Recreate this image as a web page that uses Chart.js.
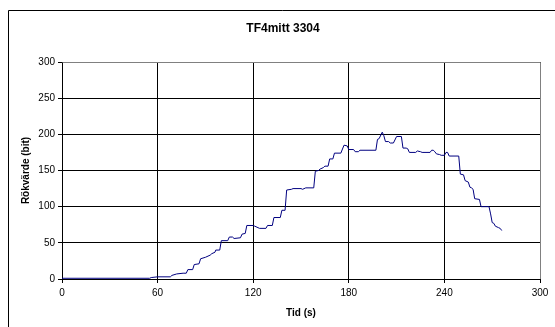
<!DOCTYPE html>
<html>
<head>
<meta charset="utf-8">
<script src="https://cdn.jsdelivr.net/npm/chart.js@4/dist/chart.umd.min.js"></script>
<style>
  body { margin: 0; background: #fff; }
  canvas { display: block; }
</style>
</head>
<body>
<canvas id="smokeChart" width="555" height="327"></canvas>
<script>
const chartTitle = "TF4mitt 3304";
const xTitle = "Tid (s)";
const yTitle = "Rökvärde (bit)";

// values (time in seconds, smoke value in bits)
const timeS = [0, 55, 56, 60, 68, 69, 72, 76, 78, 79, 82, 83, 86, 87, 90, 93, 94, 96, 96.5, 99,
    100, 104, 105, 107, 108, 112, 113, 115, 116, 120, 121, 124, 128, 129, 132, 133, 137, 138, 140,
    141, 144, 145, 150, 151, 153, 158, 159, 161, 162, 164, 165, 167, 168, 170, 171, 175, 177, 179,
    180, 183, 184, 186, 187, 197, 198, 199, 201, 202, 203, 205, 206, 208, 210, 213, 214, 216, 217,
    218, 222, 223, 225, 226, 231, 232, 233, 234, 235, 237, 238, 240, 241, 242, 243, 249, 250, 252,
    253, 255, 256, 257, 258, 259, 262, 263, 268, 269, 270, 271, 272, 274, 275, 276];
const smokeValue = [1, 1, 2, 3, 3, 5, 7, 8, 8, 13, 13, 20, 21, 28, 30, 33, 35, 37, 40, 40,
    53, 53, 58, 58, 56, 57, 62, 63, 74, 74, 73, 70, 70, 74, 74, 85, 85, 95, 95,
    123, 124, 125, 125, 124, 126, 126, 149, 150, 152, 154, 156, 156, 166, 166, 174, 174, 185, 184,
    179, 179, 176, 176, 178, 178, 193, 194, 203, 198, 190, 190, 188, 188, 197, 197, 181, 181, 180,
    175, 175, 177, 176, 175, 175, 178, 178, 176, 173, 172, 171, 171, 175, 175, 170, 170, 145, 144,
    136, 134, 127, 126, 124, 111, 110, 100, 100, 90, 78, 77, 73, 71, 70, 67];

const xTicks = [0, 60, 120, 180, 240, 300];
const yTicks = [0, 50, 100, 150, 200, 250, 300];

const fontFamily = "'Liberation Sans', Arial, sans-serif";

// outer frame, chart title and the grey plot border like the old Excel look
const framePlugin = {
    id: 'frame',
    afterDraw(chart) {
        const ctx = chart.ctx;
        const a = chart.chartArea;
        ctx.save();
        ctx.strokeStyle = '#000';
        ctx.lineWidth = 1;
        ctx.beginPath();
        ctx.moveTo(8.5, 330);
        ctx.lineTo(8.5, 10.5);
        ctx.lineTo(560, 10.5);
        ctx.stroke();

        ctx.strokeStyle = '#808080';
        ctx.beginPath();
        ctx.moveTo(Math.round(a.left) + 0.5, Math.round(a.top) + 0.5);
        ctx.lineTo(Math.round(a.right) + 0.5, Math.round(a.top) + 0.5);
        ctx.lineTo(Math.round(a.right) + 0.5, Math.round(a.bottom));
        ctx.stroke();

        ctx.fillStyle = '#000';
        ctx.font = 'bold 12px ' + fontFamily;
        ctx.textAlign = 'center';
        ctx.textBaseline = 'middle';
        ctx.fillText(chartTitle, 283, 29);
        ctx.restore();
    }
};

const points = timeS.map((t, i) => ({ x: t, y: smokeValue[i] }));

new Chart(document.getElementById('smokeChart').getContext('2d'), {
    type: 'scatter',
    data: {
        datasets: [{
            data: points,
            showLine: true,
            borderColor: '#000080',
            borderWidth: 1,
            pointRadius: 0,
            tension: 0
        }]
    },
    options: {
        responsive: false,
        animation: false,
        layout: { padding: { left: 0, top: 62, right: 15, bottom: 0 } },
        plugins: {
            legend: { display: false },
            tooltip: { enabled: false },
            title: { display: false }
        },
        scales: {
            x: {
                type: 'linear',
                min: 0,
                max: 300,
                afterBuildTicks: scale => { scale.ticks = xTicks.map(v => ({ value: v })); },
                afterFit: scale => { scale.height = 48; },
                ticks: { color: '#000', font: { family: fontFamily, size: 10 }, padding: 4, maxRotation: 0 },
                grid: { color: '#000', lineWidth: 1, tickLength: 4 },
                border: { color: '#000' },
                title: { display: true, text: xTitle, color: '#000', font: { family: fontFamily, size: 10, weight: 'bold' }, padding: 8 }
            },
            y: {
                min: 0,
                max: 300,
                afterBuildTicks: scale => { scale.ticks = yTicks.map(v => ({ value: v })); },
                afterFit: scale => { scale.width = 62; },
                ticks: { color: '#000', font: { family: fontFamily, size: 10 }, padding: 3 },
                grid: { color: '#000', lineWidth: 1, tickLength: 4 },
                border: { color: '#000' },
                title: { display: true, text: yTitle, color: '#000', font: { family: fontFamily, size: 10, weight: 'bold' }, padding: 20 }
            }
        }
    },
    plugins: [framePlugin]
});
</script>
</body>
</html>
